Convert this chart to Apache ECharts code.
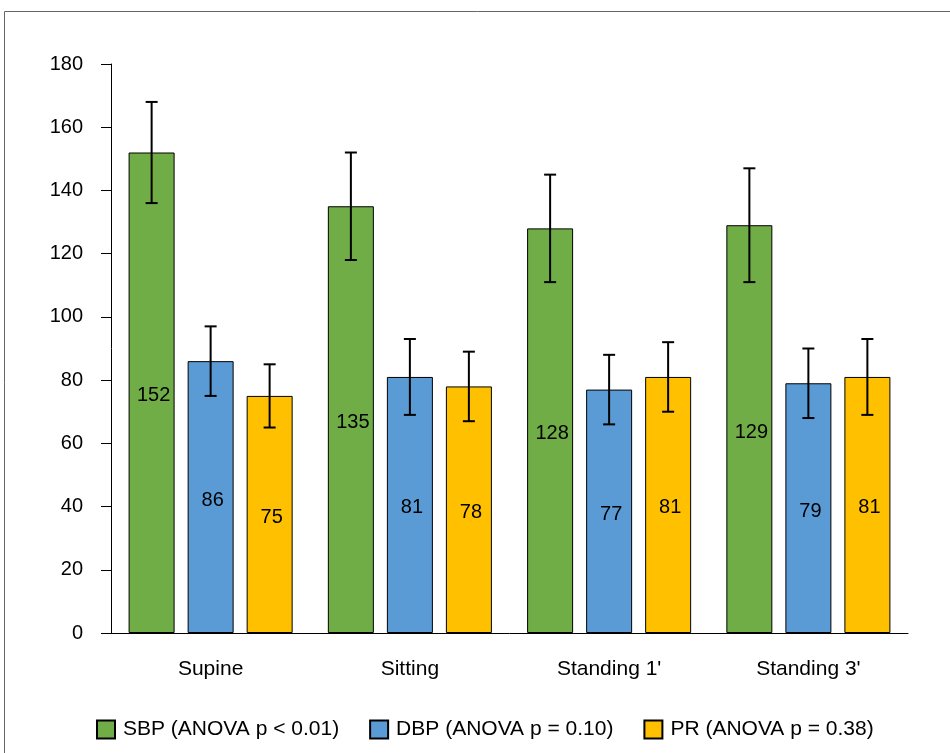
<!DOCTYPE html>
<html>
<head>
<meta charset="utf-8">
<script src="https://cdn.jsdelivr.net/npm/echarts@6/dist/echarts.min.js"></script>
<style>
  html, body { margin: 0; padding: 0; background: #fff; }
  #chart { width: 950px; height: 753px; }
</style>
</head>
<body>
<div id="chart"></div>
<script>
var categories = ['Supine', 'Sitting', "Standing 1'", "Standing 3'"];
var seriesNames = ['SBP (ANOVA p < 0.01)', 'DBP (ANOVA p = 0.10)', 'PR (ANOVA p = 0.38)'];
var sbp = [152, 135, 128, 129];
var dbp = [86, 81, 77, 79];
var pr = [75, 78, 81, 81];
// standard deviations (error bars)
var sbpSd = [16, 17, 17, 18];
var dbpSd = [11, 12, 11, 11];
var prSd = [10, 11, 11, 12];
var yTicks = [0, 20, 40, 60, 80, 100, 120, 140, 160, 180];

var FONT = '"Liberation Sans", Arial, Helvetica, sans-serif';
var BAR_W = 46;
var BAR_STEP = 59; // bar width + gap, px

var dom = document.getElementById('chart');
var myChart = echarts.init(dom);

function errorSeries(vals, sds, offset) {
    return {
        type: 'custom',
        z: 5,
        silent: true,
        data: vals.map(function (v, i) { return [i, v, sds[i]]; }),
        encode: { x: 0, y: 1 },
        renderItem: function (params, api) {
            var i = api.value(0), m = api.value(1), sd = api.value(2);
            var hi = api.coord([i, m + sd]);
            var lo = api.coord([i, m - sd]);
            var x = hi[0] + offset;
            var st = { stroke: '#000', lineWidth: 2 };
            return {
                type: 'group',
                children: [
                    { type: 'line', shape: { x1: x, y1: hi[1], x2: x, y2: lo[1] }, style: st },
                    { type: 'line', shape: { x1: x - 6, y1: hi[1], x2: x + 6, y2: hi[1] }, style: st },
                    { type: 'line', shape: { x1: x - 6, y1: lo[1], x2: x + 6, y2: lo[1] }, style: st }
                ]
            };
        }
    };
}

function barSeries(name, vals, color) {
    return {
        name: name,
        type: 'bar',
        barWidth: BAR_W,
        barGap: ((BAR_STEP - BAR_W) / BAR_W * 100).toFixed(1) + '%',
        data: vals,
        itemStyle: { color: color, borderColor: '#000', borderWidth: 1 },
        label: {
            show: true,
            position: 'inside',
            offset: [2, 3],
            color: '#000',
            fontSize: 20,
            fontFamily: FONT
        }
    };
}

var option = {
    animation: false,
    backgroundColor: '#fff',
    graphic: [{
        type: 'rect',
        shape: { x: 4.5, y: 11.5, width: 1000, height: 1000 },
        style: { fill: 'none', stroke: '#666', lineWidth: 1 }
    }],
    grid: { left: 111, right: 42, top: 64, bottom: 120 },
    legend: {
        data: seriesNames,
        left: 91,
        top: 714,
        itemWidth: 18,
        itemHeight: 18,
        itemGap: 30,
        icon: 'rect',
        textStyle: { fontSize: 21, color: '#000', fontFamily: FONT, padding: [0, 0, 0, 3] }
    },
    xAxis: {
        type: 'category',
        data: categories,
        axisLine: { lineStyle: { color: '#000', width: 1 } },
        axisTick: { show: false },
        axisLabel: { color: '#000', fontSize: 21, fontFamily: FONT, margin: 26 }
    },
    yAxis: {
        type: 'value',
        min: yTicks[0],
        max: yTicks[yTicks.length - 1],
        interval: yTicks[1] - yTicks[0],
        splitLine: { show: false },
        axisLine: { show: true, lineStyle: { color: '#000', width: 1 } },
        axisTick: { show: true, length: 10, lineStyle: { color: '#000', width: 1 } },
        axisLabel: { color: '#000', fontSize: 20, fontFamily: FONT, margin: 28 }
    },
    series: [
        barSeries(seriesNames[0], sbp, '#70AD47'),
        barSeries(seriesNames[1], dbp, '#5B9BD5'),
        barSeries(seriesNames[2], pr, '#FFC000'),
        errorSeries(sbp, sbpSd, -BAR_STEP),
        errorSeries(dbp, dbpSd, 0),
        errorSeries(pr, prSd, BAR_STEP)
    ]
};

myChart.setOption(option, true);
</script>
</body>
</html>
